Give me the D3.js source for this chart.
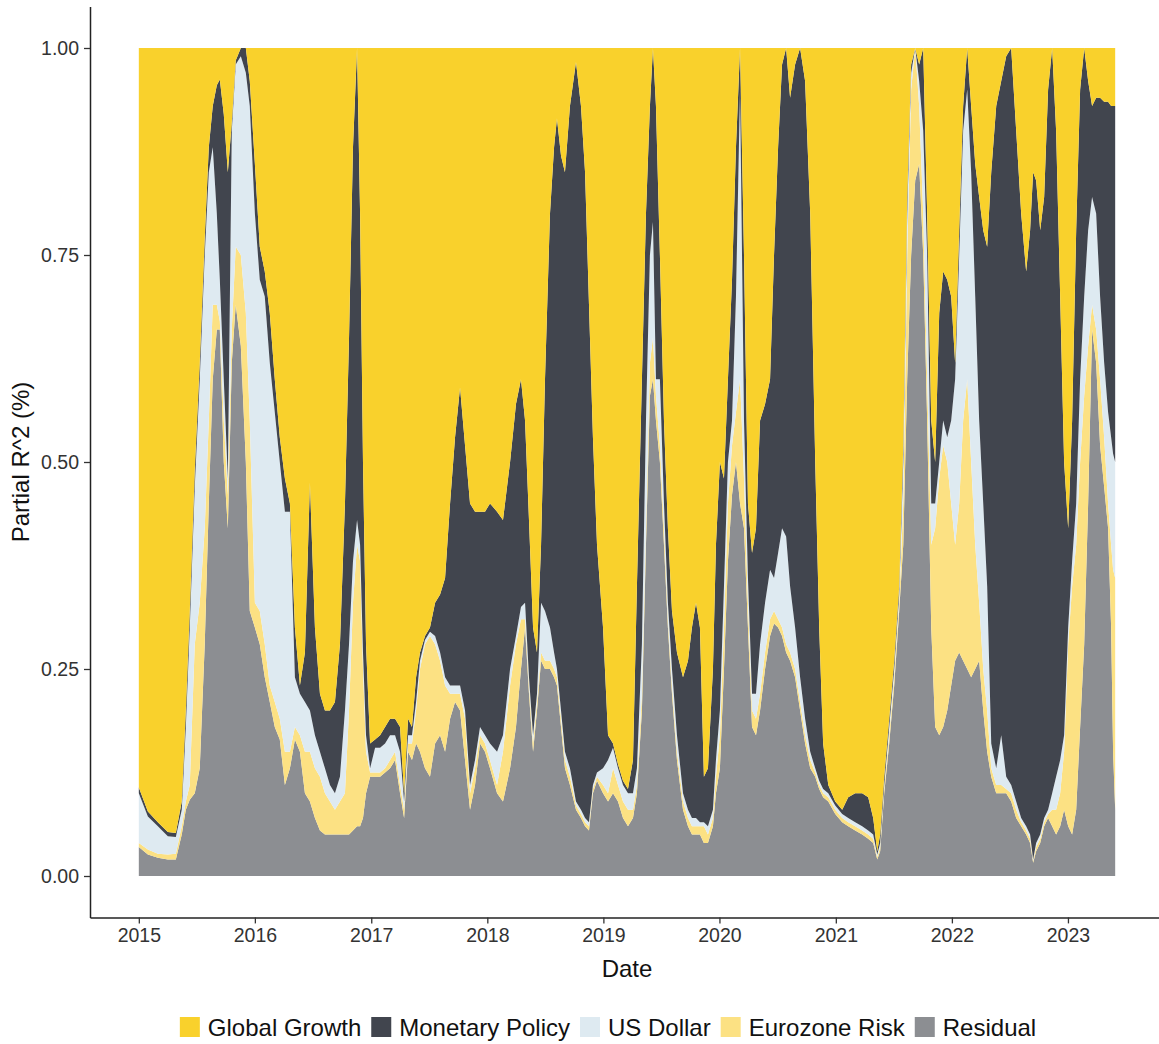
<!DOCTYPE html>
<html><head><meta charset="utf-8">
<script src="https://cdn.jsdelivr.net/npm/d3@7"></script>
<style>body{margin:0;background:#fff;} svg{display:block;font-family:"Liberation Sans", Arial, sans-serif;}</style>
</head><body><svg id="chart" width="1159" height="1044"></svg>
<script>
// decimal-year dates of the observations
const dates = [
2015.000,2015.078,2015.164,2015.250,2015.319,2015.370,2015.405,2015.439,2015.482,2015.525,
2015.568,2015.603,2015.637,2015.672,2015.698,2015.732,2015.767,2015.801,2015.835,2015.879,
2015.922,2015.956,2016.000,2016.042,2016.085,2016.128,2016.171,2016.214,2016.258,2016.301,
2016.344,2016.387,2016.430,2016.473,2016.516,2016.559,2016.602,2016.645,2016.688,2016.731,
2016.774,2016.809,2016.843,2016.878,2016.904,2016.929,2016.955,2016.990,2017.033,2017.076,
2017.119,2017.162,2017.205,2017.248,2017.283,2017.317,2017.351,2017.386,2017.420,2017.463,
2017.506,2017.550,2017.593,2017.636,2017.679,2017.722,2017.765,2017.808,2017.851,2017.894,
2017.937,2017.980,2018.023,2018.084,2018.135,2018.196,2018.247,2018.290,2018.325,2018.359,
2018.394,2018.428,2018.463,2018.497,2018.540,2018.575,2018.600,2018.635,2018.669,2018.712,
2018.764,2018.807,2018.842,2018.876,2018.910,2018.945,2018.997,2019.040,2019.083,2019.126,
2019.169,2019.212,2019.255,2019.289,2019.332,2019.367,2019.401,2019.427,2019.453,2019.487,
2019.522,2019.556,2019.591,2019.634,2019.686,2019.729,2019.763,2019.798,2019.832,2019.866,
2019.901,2019.944,2019.970,2020.004,2020.039,2020.073,2020.108,2020.142,2020.177,2020.211,
2020.245,2020.280,2020.314,2020.349,2020.392,2020.435,2020.469,2020.504,2020.538,2020.573,
2020.607,2020.650,2020.693,2020.736,2020.780,2020.823,2020.857,2020.891,2020.935,2020.995,
2021.055,2021.107,2021.167,2021.227,2021.279,2021.322,2021.357,2021.382,2021.417,2021.460,
2021.503,2021.546,2021.581,2021.615,2021.649,2021.684,2021.718,2021.753,2021.787,2021.822,
2021.856,2021.891,2021.925,2021.960,2021.994,2022.028,2022.063,2022.097,2022.132,2022.166,
2022.201,2022.235,2022.270,2022.304,2022.339,2022.382,2022.425,2022.468,2022.511,2022.554,
2022.597,2022.640,2022.674,2022.700,2022.726,2022.761,2022.795,2022.829,2022.864,2022.898,
2022.933,2022.967,2023.002,2023.036,2023.071,2023.105,2023.140,2023.174,2023.208,2023.243,
2023.277,2023.312,2023.346,2023.372,2023.389,2023.407];

const residual = [
.035,.026,.022,.02,.02,.05,.08,.092,.1,.13,
.28,.45,.6,.66,.66,.5,.42,.62,.69,.64,
.5,.32,.3,.28,.24,.21,.18,.165,.11,.13,
.165,.15,.1,.09,.07,.055,.05,.05,.05,.05,
.05,.05,.055,.06,.06,.07,.1,.12,.12,.12,
.125,.13,.14,.1,.07,.15,.14,.16,.15,.13,
.12,.16,.17,.15,.19,.21,.2,.14,.08,.11,
.16,.15,.13,.1,.09,.13,.18,.25,.3,.22,
.15,.2,.26,.25,.25,.24,.23,.18,.13,.11,
.08,.07,.06,.055,.1,.115,.1,.09,.1,.09,
.07,.06,.07,.1,.2,.4,.58,.6,.55,.5,
.4,.3,.22,.14,.08,.06,.05,.05,.05,.04,
.04,.06,.1,.13,.25,.38,.46,.5,.45,.42,
.3,.18,.17,.2,.25,.29,.305,.3,.29,.27,
.26,.24,.2,.16,.13,.12,.105,.095,.09,.075,
.065,.06,.055,.05,.045,.04,.02,.03,.1,.16,
.23,.32,.4,.6,.75,.84,.86,.75,.55,.3,
.18,.17,.18,.2,.23,.26,.27,.26,.25,.24,
.25,.26,.2,.15,.12,.1,.1,.1,.09,.07,
.06,.05,.04,.016,.03,.04,.06,.07,.06,.05,
.06,.08,.06,.05,.08,.18,.28,.45,.66,.62,
.52,.47,.42,.3,.15,.08];

const eurozoneRisk = [
.005,.006,.005,.006,.007,.01,.01,.018,.18,.2,
.14,.1,.09,.03,.01,.05,.04,.04,.07,.11,
.18,.23,.03,.04,.04,.02,.03,.025,.04,.02,
.015,.02,.05,.06,.06,.065,.05,.04,.03,.04,
.05,.15,.275,.34,.32,.18,.05,.005,.005,.005,
.005,.01,.01,.01,.01,.01,.02,.04,.1,.15,
.17,.12,.09,.08,.03,.01,.02,.05,.02,.02,
.01,.01,.01,.01,.06,.1,.1,.06,.01,.01,
.01,.01,.01,.01,.01,.01,.01,.01,.01,.01,
.005,.005,.005,.005,.005,.005,.01,.01,.03,.02,
.02,.02,.01,.01,.02,.02,.04,.05,.03,.02,
.02,.01,.01,.01,.01,.01,.01,.01,.01,.02,
.01,.01,.02,.04,.05,.07,.06,.06,.15,.06,
.03,.02,.02,.02,.02,.02,.015,.01,.01,.01,
.01,.01,.01,.01,.01,.005,.005,.005,.005,.005,
.005,.005,.005,.005,.005,.005,.003,.005,.005,.01,
.01,.01,.05,.15,.2,.16,.07,.05,.05,.1,
.24,.31,.34,.3,.22,.14,.18,.29,.35,.26,
.15,.07,.05,.05,.01,.01,.01,.005,.01,.01,
.005,.005,.005,.002,.005,.005,.005,.005,.02,.03,
.04,.07,.22,.3,.32,.32,.3,.19,.03,.04,
.08,.06,.03,.1,.22,.28];

const usDollar = [
.06,.04,.033,.022,.02,.02,.09,.19,.19,.27,
.33,.3,.19,.11,.05,.05,.02,.24,.22,.24,
.29,.38,.47,.4,.42,.39,.35,.31,.29,.29,
.06,.05,.06,.05,.04,.03,.03,.02,.02,.03,
.1,.08,.05,.03,.02,.02,.02,.005,.03,.03,
.03,.03,.02,.04,.01,.01,.01,.01,.01,.005,
.005,.01,.01,.01,.01,.01,.01,.01,.01,.01,
.01,.01,.02,.04,.02,.02,.01,.015,.02,.01,
.01,.01,.06,.06,.04,.02,.01,.01,.01,.01,
.005,.005,.005,.005,.005,.005,.02,.04,.025,.02,
.02,.02,.02,.02,.06,.13,.13,.14,.02,.08,
.03,.02,.02,.02,.01,.01,.01,.01,.005,.005,
.01,.01,.02,.03,.05,.05,.03,.14,.35,.07,
.03,.02,.03,.06,.06,.06,.04,.08,.12,.13,
.08,.05,.03,.02,.01,.005,.005,.005,.005,.005,
.005,.005,.005,.005,.005,.005,.003,.005,.005,.01,
.01,.01,.05,.05,.02,0,.03,.1,.15,.05,
.03,.02,.03,.03,.1,.2,.3,.35,.35,.35,
.3,.22,.2,.15,.03,.02,.06,.015,.01,.01,
.005,.005,.005,.002,.005,.005,.005,.005,.02,.04,
.04,.02,.02,.03,.05,.1,.12,.14,.13,.14,
.1,.09,.11,.13,.14,.14];

const monetaryPolicy = [
.007,.006,.005,.005,.005,.01,.02,.02,.02,.02,
.02,.03,.05,.155,.242,.32,.37,.01,.005,.01,
.03,.03,.06,.04,.03,.06,.04,.03,.04,.01,
.06,.01,.06,.275,.13,.07,.07,.09,.11,.16,
.25,.37,.5,.57,.4,.23,.11,.03,.01,.015,
.02,.02,.02,.03,.01,.02,.01,.03,.01,.005,
.005,.04,.07,.12,.22,.3,.36,.32,.34,.3,
.26,.27,.29,.29,.26,.25,.28,.275,.22,.19,
.13,.05,.07,.28,.5,.61,.665,.67,.7,.8,
.893,.85,.78,.625,.42,.275,.17,.03,.005,.005,
.005,.005,.04,.22,.32,.25,.18,.21,.33,.15,
.1,.09,.07,.1,.14,.18,.23,.26,.235,.055,
.07,.17,.26,.3,.13,.1,.17,.18,.05,.2,
.09,.17,.2,.27,.24,.23,.39,.49,.56,.59,
.59,.68,.76,.77,.65,.37,.185,.055,.01,.005,
.005,.025,.035,.04,.04,.02,.004,.01,.01,.01,
.01,.01,.02,.02,.01,0,.02,.1,.05,.1,
.05,.18,.18,.19,.15,.02,.03,.03,.05,.08,
.16,.27,.33,.41,.69,.8,.79,.87,.89,.81,
.73,.67,.73,.83,.8,.73,.75,.87,.9,.78,
.56,.33,.12,.17,.33,.35,.3,.18,.11,.14,
.24,.315,.375,.4,.42,.43];

const globalGrowth = [
.893,.922,.935,.947,.948,.91,.8,.68,.51,.38,
.23,.12,.07,.045,.038,.08,.15,.09,.015,0,
0,.04,.14,.24,.27,.32,.4,.47,.52,.55,
.7,.77,.73,.525,.7,.78,.8,.8,.79,.72,
.55,.35,.12,0,.2,.5,.72,.84,.835,.83,
.82,.81,.81,.82,.9,.81,.82,.76,.73,.71,
.7,.67,.66,.64,.55,.47,.41,.48,.55,.56,
.56,.56,.55,.56,.57,.5,.43,.4,.45,.57,
.7,.73,.6,.4,.2,.12,.085,.13,.15,.07,
.017,.07,.15,.31,.47,.6,.7,.83,.84,.865,
.885,.895,.86,.65,.4,.2,.07,0,.07,.25,
.45,.58,.68,.73,.76,.74,.7,.67,.7,.88,
.87,.75,.6,.5,.52,.4,.28,.12,0,.25,
.55,.61,.58,.45,.43,.4,.25,.12,.02,0,
.06,.02,0,.04,.2,.5,.7,.84,.89,.91,
.92,.905,.9,.9,.905,.93,.97,.95,.88,.81,
.74,.65,.48,.18,.02,0,.02,0,.2,.45,
.5,.32,.27,.28,.3,.38,.22,.07,0,.07,
.14,.18,.22,.24,.15,.07,.04,.01,0,.1,
.2,.27,.22,.15,.16,.22,.18,.05,0,.1,
.3,.5,.58,.45,.22,.05,0,.04,.07,.06,
.06,.065,.065,.07,.07,.07];

const legendNames = ["Global Growth","Monetary Policy","US Dollar","Eurozone Risk","Residual"];
const stackOrder = ["Residual","Eurozone Risk","US Dollar","Monetary Policy","Global Growth"];
const colors = {"Global Growth":"#F9D12C","Monetary Policy":"#41454E","US Dollar":"#DEEAF1","Eurozone Risk":"#FCE183","Residual":"#8C8E92"};
const yTicks = [0, 0.25, 0.5, 0.75, 1.0];
const xTickYears = [2015,2016,2017,2018,2019,2020,2021,2022,2023];

function toDate(t){ const yr=Math.floor(t); const a=new Date(yr,0,1), b=new Date(yr+1,0,1); return new Date(+a + (t-yr)*(b-a)); }

const table = dates.map((t,i)=>({date:toDate(t),
  "Residual":residual[i],"Eurozone Risk":eurozoneRisk[i],"US Dollar":usDollar[i],
  "Monetary Policy":monetaryPolicy[i],"Global Growth":globalGrowth[i]}));

const svg = d3.select("#chart");
svg.append("rect").attr("width",1159).attr("height",1044).attr("fill","#fff");

const d0 = table[0].date, d1 = table[table.length-1].date;
const pad = (d1-d0)*0.05;
const x = d3.scaleTime().domain([new Date(+d0-pad), new Date(+d1+pad)]).range([90,1164]);
const y = d3.scaleLinear().domain([-0.05,1.05]).range([917.4,6.6]);

const stack = d3.stack().keys(stackOrder);
const layers = stack(table);
const area = d3.area().x(d=>x(d.data.date)).y0(d=>y(d[0])).y1(d=>y(d[1]));

svg.append("g").selectAll("path").data(layers).join("path")
  .attr("d",area).attr("fill",d=>colors[d.key]);

// axes
const xAxis = d3.axisBottom(x).tickValues(xTickYears.map(v=>new Date(v,0,1)))
  .tickFormat(d3.timeFormat("%Y")).tickSize(6).tickSizeOuter(0).tickPadding(5);
const gx = svg.append("g").attr("transform","translate(0,917.4)").call(xAxis);
const yAxis = d3.axisLeft(y).tickValues(yTicks).tickFormat(d3.format(".2f"))
  .tickSize(6).tickSizeOuter(0).tickPadding(5);
const gy = svg.append("g").attr("transform","translate(90,0)").call(yAxis);
[gx,gy].forEach(g=>{
  g.select(".domain").attr("stroke","#222").attr("stroke-width",1.5);
  g.selectAll(".tick line").attr("stroke","#333").attr("stroke-width",1.3);
  g.selectAll(".tick text").attr("fill","#333").style("font-size","19.5px")
   .style("font-family",'"Liberation Sans", Arial, sans-serif');
});

svg.append("text").attr("x",627).attr("y",977).attr("text-anchor","middle")
  .style("font-size","24px").attr("fill","#111").text("Date");
svg.append("text").attr("transform","translate(29,462) rotate(-90)").attr("text-anchor","middle")
  .style("font-size","24px").attr("fill","#111").text("Partial R^2 (%)");

// legend
const leg = svg.append("g");
const keySize = 20, keyGap = 8, itemGap = 10, legY = 1027;
let cx = 0;
legendNames.forEach(n=>{
  const g = leg.append("g");
  g.append("rect").attr("x",0).attr("y",legY-keySize/2).attr("width",keySize).attr("height",keySize).attr("fill",colors[n]);
  const t = g.append("text").attr("x",keySize+keyGap).attr("y",legY+8.5).style("font-size","24px").attr("fill","#111").text(n);
  const w = keySize+keyGap+t.node().getComputedTextLength();
  g.attr("transform",`translate(${cx},0)`);
  cx += w + itemGap;
});
const total = cx - itemGap;
leg.attr("transform",`translate(${608-total/2},0)`);
</script></body></html>
